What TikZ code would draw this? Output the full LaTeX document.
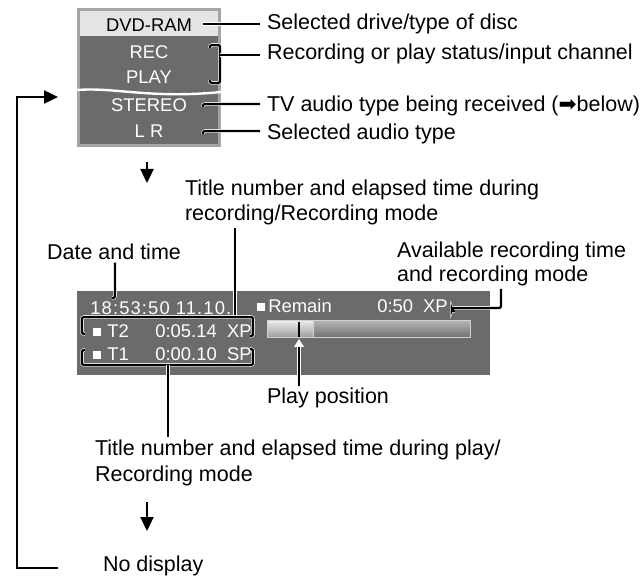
\documentclass[tikz,border=0pt]{standalone}
\usepackage{fontspec}
\setmainfont{Liberation Sans}
\newfontfamily\dvsfont{DejaVu Sans}
\usetikzlibrary{arrows.meta, positioning}
\definecolor{osdgray}{HTML}{6B6B6B}
\definecolor{osdrim}{HTML}{A4A4A4}
\definecolor{osdlight}{HTML}{E4E4E4}
\tikzset{
  % didascalie
  lbl/.style={anchor=base west, inner ysep=1pt, font=\fontsize{10.75}{13}\selectfont},
  % testo sullo schermo
  osdtxt/.style={font=\fontsize{9.2}{11}\selectfont, text=white, inner sep=0pt},
  % quadratino bianco
  sqmark/.style={fill=white, minimum size=4.4pt, inner sep=0pt},
  % linea di richiamo (nera con bordo bianco)
  lead/.style={draw=white, double=black, double distance=1.15pt, line width=0.3pt,
    rounded corners=1pt},
  % frecce del ciclo
  flow/.style={-{Triangle[length=7pt, width=6.5pt]}, line width=1.2pt},
}

\begin{document}
\begin{tikzpicture}[x=0.5pt, y=-0.5pt]
  \useasboundingbox (0,0) rectangle (643,577);

  % schermo in alto
  \fill[osdrim] (77,8) rectangle (221,147);
  \fill[osdgray] (80,11) rectangle (218,144);
  \fill[osdlight] (80,11) rectangle (218,36);
  \draw[white, line width=1.2pt] (77,90) .. controls (115,87) and (150,99) .. (221,92);
  \node[osdtxt, text=black, anchor=base] (tDvd) at (149,32) {DVD-RAM};
  \node[osdtxt, anchor=base] (tRec) at (149,59) {REC};
  \node[osdtxt, anchor=base] (tPlay) at (149,84) {PLAY};
  \node[osdtxt, anchor=base] (tStereo) at (149,112) {STEREO};
  \node[osdtxt, anchor=base] (tLr) at (149,138) {L R};

  \node[lbl] (lDrive) at (260,30) {Selected drive/type of disc};
  \node[lbl] (lStatus) at (260,60) {Recording or play status/input channel};
  \node[lbl] (lAudio) at (260,112) {TV audio type being received ({\dvsfont ➡}below)};
  \node[lbl] (lSel) at (260,140) {Selected audio type};

  \coordinate (hDvd) at (203,24);
  \coordinate (jBrk) at (220,55);
  \coordinate (hStereo) at (203,104);
  \coordinate (hLr) at (203,131);
  \draw[lead] (hDvd) -- (hDvd -| lDrive.west);
  \draw[lead] (210,48) -- (210,45) -- (220,45) -- (220,83) -- (210,83) -- (210,80);
  \draw[lead] (jBrk) -- (jBrk -| lStatus.west);
  \draw[lead] ([yshift=-1.5pt]hStereo) -- (hStereo) -- (hStereo -| lAudio.west);
  \draw[lead] ([yshift=-1.5pt]hLr) -- (hLr) -- (hLr -| lSel.west);

  % schermo in mezzo
  \fill[osdgray] (77,291) rectangle (490,375);
  \node[osdtxt, anchor=base west] (tClock) at (90,315)
    {\addfontfeature{LetterSpace=6}18:53:50 11.10.};
  \node[sqmark] (sq2) at (97,332) {};
  \node[osdtxt, anchor=base west] (tT2) at (107,338) {T2};
  \node[osdtxt, anchor=base west] (tTime2) at (155,338) {0:05.14};
  \node[osdtxt, anchor=base east] (tMode2) at (252,338) {XP};
  \node[sqmark] (sq1) at (97,355) {};
  \node[osdtxt, anchor=base west] (tT1) at (107,361) {T1};
  \node[osdtxt, anchor=base west] (tTime1) at (155,361) {0:00.10};
  \node[osdtxt, anchor=base east] (tMode1) at (252,361) {SP};
  \node[sqmark] (sqR) at (261,307) {};
  \node[osdtxt, anchor=base west] (tRemain) at (268,313) {Remain};
  \node[osdtxt, anchor=base west] (tLeft) at (377,313) {0:50};
  \node[osdtxt, anchor=base east] (tModeR) at (448,313) {XP};

  % barra di avanzamento
  \shade[top color=white!92!black, bottom color=white!62!black] (268,321) rectangle (313,337);
  \shade[top color=white!70!black, bottom color=white!45!black] (313,321) rectangle (470,337);
  \draw[white!82!black, line width=0.5pt] (267.5,320.5) rectangle (470,337.5) (313,321) -- (313,337);
  \draw[black, line width=0.6pt] (299,322) -- (299,337);
  \fill[white] (294,347) -- (304,347) -- (299,339) -- cycle;

  \node[lbl] (lTitleA1) at (178,196) {Title number and elapsed time during};
  \node[lbl] (lTitleA2) at (178,221) {recording/Recording mode};
  \node[lbl] (lDate) at (40,260) {Date and time};
  \node[lbl] (lAvail1) at (390,258) {Available recording time};
  \node[lbl] (lAvail2) at (390,282) {and recording mode};
  \node[lbl] (lPlay) at (260,404) {Play position};
  \node[lbl] (lTitleB1) at (88,455) {Title number and elapsed time during play/};
  \node[lbl] (lTitleB2) at (88,481) {Recording mode};
  \node[lbl] (lNone) at (96,571) {No display};

  \coordinate (jT2) at (235,317);
  \coordinate (jT1) at (168,365);
  \coordinate (jDate) at (115,298);
  \coordinate (jAvail) at (501,308);
  \coordinate (mk) at (299,347);
  \draw[lead] (lTitleA2.south -| jT2) -- (jT2);
  \draw[lead] (85,334) -- (82,334) -- (82,317) -- (253,317) -- (253,336) -- (250,336);
  \draw[lead] (85,350) -- (82,350) -- (82,365) -- (253,365) -- (253,349) -- (250,349);
  \draw[lead] (jT1) -- (lTitleB1.north -| jT1);
  \draw[lead] (lDate.south -| jDate) -- (jDate) -- ++(-3,0);
  \draw[lead] (455,311) -- (452,311) -- (452,308) -- (jAvail) -- (lAvail2.south -| jAvail);
  \draw[lead] (mk) -- (lPlay.north -| mk);

  % frecce
  \coordinate (dnA) at (147,162);
  \coordinate (dnB) at (147,502);
  \coordinate (loopEnd) at (58,568);
  \coordinate (loopTip) at (58,97);
  \draw[flow] (dnA) -- ++(0,21);
  \draw[flow] (dnB) -- ++(0,29);
  \draw[flow] (loopEnd) -- (17,568) -- (17,97) -- (loopTip);
\end{tikzpicture}
\end{document}
